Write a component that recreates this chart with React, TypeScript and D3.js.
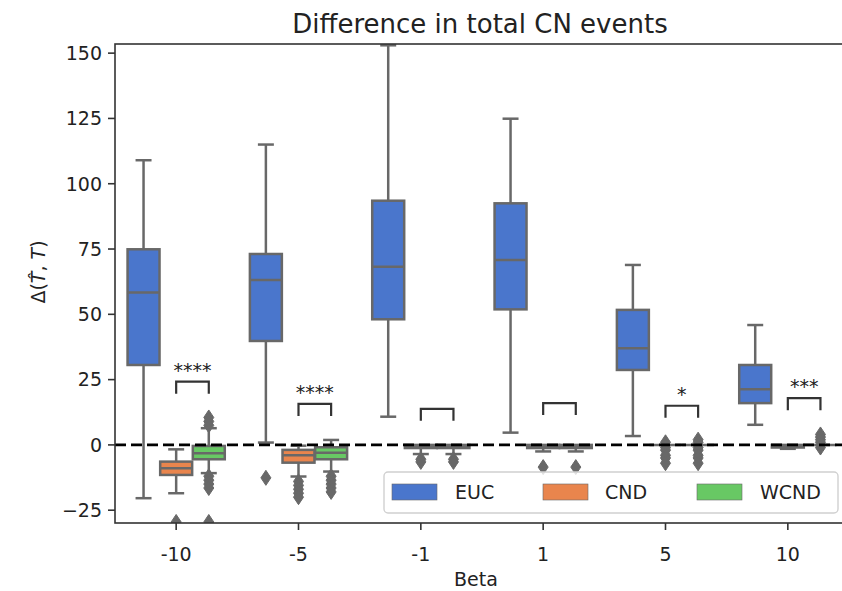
import React from "react";
import * as d3 from "d3";

const categories = ["-10", "-5", "-1", "1", "5", "10"];
const methods = ["EUC", "CND", "WCND"];
const methodColors = ["#4a76cc", "#e9854d", "#68c864"];

// EUC
const eucQ1 = [30.6, 39.8, 48.1, 51.9, 28.7, 16.0];
const eucMedian = [58.4, 63.1, 68.2, 70.8, 37.0, 21.3];
const eucQ3 = [74.9, 73.1, 93.5, 92.5, 51.7, 30.6];
const eucLow = [-20.4, 0.9, 10.8, 4.7, 3.4, 7.7];
const eucHigh = [109, 115, 153, 124.9, 68.9, 45.9];
const eucOutliers = [[], [-12.6], [], [], [], []];

// CND
const cndQ1 = [-11.5, -6.8, -1.2, -1.2, 0, -1];
const cndMedian = [-8.9, -4.0, -0.6, -0.6, 0, -0.5];
const cndQ3 = [-6.4, -1.9, 0, 0, 0, 0];
const cndLow = [-18.5, -12.1, -3.5, -2.5, 0, -1.5];
const cndHigh = [-1.7, -0.3, 0, 0, 0, 0];
const cndOutliers = [[-29.5], [-14, -15.5, -17, -18.5, -20], [-5.5, -6.5], [-8.5], [1, -1, -2, -4, -5, -7], []];

// WCND
const wcndQ1 = [-5.5, -5.5, -1.2, -1.2, 0, 0];
const wcndMedian = [-3.2, -3.0, -0.6, -0.6, 0, 0];
const wcndQ3 = [-0.4, -0.9, 0, 0, 0, 0];
const wcndLow = [-10.8, -10.2, -3.5, -2.5, 0, 0];
const wcndHigh = [6.4, 1.9, 0, 0, 0, 0];
const wcndOutliers = [
  [7.5, 9, 10.5, -12, -13.5, -15, -16.5, -29.5],
  [-12, -13.5, -15, -16.5, -18],
  [-5.5, -6.5],
  [-8.5],
  [2, 1, -1, -2, -4, -5, -7],
  [4, 3, 2, 1, -1],
];

// significance brackets (CND vs WCND), top of bracket in data units
const bracketTop = [24.2, 15.7, 13.8, 16.0, 15.0, 17.9];
const sigLabels = ["****", "****", "", "", "*", "***"];

const yTicks = [-25, 0, 25, 50, 75, 100, 125, 150];
const yDomain = [-29.9, 153.5];

const stats = [
  { q1: eucQ1, med: eucMedian, q3: eucQ3, lo: eucLow, hi: eucHigh, out: eucOutliers },
  { q1: cndQ1, med: cndMedian, q3: cndQ3, lo: cndLow, hi: cndHigh, out: cndOutliers },
  { q1: wcndQ1, med: wcndMedian, q3: wcndQ3, lo: wcndLow, hi: wcndHigh, out: wcndOutliers },
];

const W = 842;
const H = 591;
const left = 115;
const right = 849;
const top = 44;
const bottom = 523;
const FONT = "DejaVu Sans, sans-serif";
const GRAY = "#686868";

export default function App() {
  const x = d3.scaleBand<string>().domain(categories).range([left, right]).padding(0);
  const y = d3.scaleLinear().domain(yDomain).range([bottom, top]);
  const bw = x.bandwidth();
  const hueW = (bw * 0.8) / methods.length;
  const boxW = hueW * 0.98;
  const center = (ci: number, mi: number) => (x(categories[ci]) as number) + bw / 2 + (mi - 1) * hueW;

  const diamond = (cx: number, cy: number) => {
    const hw = 5, hh = 7.5;
    return `M${cx},${cy - hh}L${cx + hw},${cy}L${cx},${cy + hh}L${cx - hw},${cy}Z`;
  };

  const boxes: React.ReactNode[] = [];
  stats.forEach((s, mi) => {
    categories.forEach((c, ci) => {
      const cx = center(ci, mi);
      const x0 = cx - boxW / 2;
      const q1 = y(s.q1[ci]);
      const q3 = y(s.q3[ci]);
      const med = y(s.med[ci]);
      const lo = y(s.lo[ci]);
      const hi = y(s.hi[ci]);
      const capW = boxW / 2;
      boxes.push(
        <g key={`b-${mi}-${ci}`}>
          {s.hi[ci] > s.q3[ci] && (
            <>
              <line x1={cx} x2={cx} y1={q3} y2={hi} stroke={GRAY} strokeWidth={2.5} />
              <line x1={cx - capW / 2} x2={cx + capW / 2} y1={hi} y2={hi} stroke={GRAY} strokeWidth={2.5} />
            </>
          )}
          {s.lo[ci] < s.q1[ci] && (
            <>
              <line x1={cx} x2={cx} y1={q1} y2={lo} stroke={GRAY} strokeWidth={2.5} />
              <line x1={cx - capW / 2} x2={cx + capW / 2} y1={lo} y2={lo} stroke={GRAY} strokeWidth={2.5} />
            </>
          )}
          <rect x={x0} y={q3} width={boxW} height={Math.max(0, q1 - q3)} fill={methodColors[mi]} stroke={GRAY} strokeWidth={2.5} />
          <line x1={x0} x2={x0 + boxW} y1={med} y2={med} stroke={GRAY} strokeWidth={2.5} />
          {s.out[ci].map((v, k) => (
            <path key={k} d={diamond(cx, y(v))} fill={GRAY} stroke={GRAY} strokeWidth={1} />
          ))}
        </g>
      );
    });
  });

  const brackets = categories.map((c, ci) => {
    const xa = center(ci, 1);
    const xb = center(ci, 2);
    const yt = y(bracketTop[ci]);
    const leg = 12;
    return (
      <g key={`s-${ci}`}>
        <path d={`M${xa},${yt + leg}L${xa},${yt}L${xb},${yt}L${xb},${yt + leg}`} fill="none" stroke="#333" strokeWidth={2.2} />
        {sigLabels[ci] && (
          <text x={(xa + xb) / 2} y={yt - 5} textAnchor="middle" fontSize={19} fontFamily={FONT} fill="#222">
            {sigLabels[ci]}
          </text>
        )}
      </g>
    );
  });

  const legendX0 = 384, legendX1 = 838, legendY0 = 472, legendY1 = 513;
  const legendPatchX = [392, 543, 697];
  const legendTextX = [455, 605, 760];

  return (
    <svg width={W} height={H} style={{ position: "absolute", left: 0, top: 0, background: "#fff" }} fontFamily={FONT}>
      <defs>
        <clipPath id="plot">
          <rect x={left} y={top} width={right - left} height={bottom - top} />
        </clipPath>
      </defs>
      <rect x={0} y={0} width={W} height={H} fill="#fff" />
      <text x={(left + right) / 2 - 2} y={33} textAnchor="middle" fontSize={26} fill="#222">
        Difference in total CN events
      </text>
      <g clipPath="url(#plot)">
        {boxes}
        <line x1={left} x2={right} y1={y(0)} y2={y(0)} stroke="#000" strokeWidth={2.6} strokeDasharray="11,5" />
        {brackets}
      </g>
      {/* spines */}
      <rect x={left} y={top} width={right - left} height={bottom - top} fill="none" stroke="#333" strokeWidth={1.6} />
      {/* y ticks */}
      {yTicks.map((t) => (
        <g key={`yt-${t}`}>
          <line x1={left - 7} x2={left} y1={y(t)} y2={y(t)} stroke="#333" strokeWidth={1.6} />
          <text x={left - 13} y={y(t)} dy="0.36em" textAnchor="end" fontSize={19} fill="#222">
            {t < 0 ? `\u2212${Math.abs(t)}` : t}
          </text>
        </g>
      ))}
      {/* x ticks */}
      {categories.map((c) => {
        const cx = (x(c) as number) + bw / 2;
        return (
          <g key={`xt-${c}`}>
            <line x1={cx} x2={cx} y1={bottom} y2={bottom + 7} stroke="#333" strokeWidth={1.6} />
            <text x={cx} y={561} textAnchor="middle" fontSize={19} fill="#222">
              {c}
            </text>
          </g>
        );
      })}
      <text x={(left + right) / 2 - 6} y={586} textAnchor="middle" fontSize={19} fill="#222">
        Beta
      </text>
      <text transform={`translate(45,272) rotate(-90)`} textAnchor="middle" fontSize={19} fill="#222">
        Δ(<tspan fontStyle="italic">T̂</tspan>, <tspan fontStyle="italic">T</tspan>)
      </text>
      {/* legend */}
      <rect x={legendX0} y={legendY0} width={legendX1 - legendX0} height={legendY1 - legendY0} rx={4} fill="#fff" fillOpacity={0.8} stroke="#d0d0d0" strokeWidth={1.4} />
      {methods.map((m, i) => (
        <g key={`lg-${m}`}>
          <rect x={legendPatchX[i]} y={484} width={45} height={16} fill={methodColors[i]} stroke={GRAY} strokeWidth={0.6} />
          <text x={legendTextX[i]} y={499} fontSize={19} fill="#222">
            {m}
          </text>
        </g>
      ))}
    </svg>
  );
}
